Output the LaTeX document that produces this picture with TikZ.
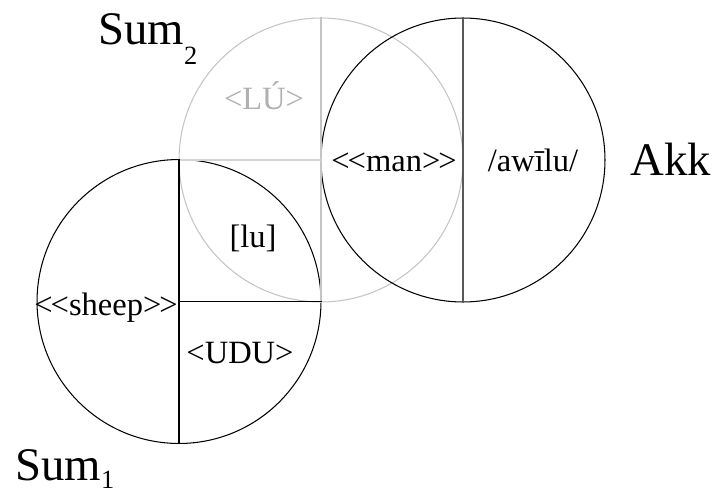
\documentclass[tikz,border=0pt]{standalone}
\usepackage{fontspec}
\setmainfont{Liberation Serif}
\usepackage{tikz}
\usetikzlibrary{shapes.geometric}
\definecolor{lightring}{HTML}{C4C4C4}
\definecolor{lightline}{HTML}{D4D4D4}
\definecolor{lighttext}{HTML}{B0B0B0}
\tikzstyle{ring} = [circle, draw=black, line width=0.6pt, minimum size=5.68cm, inner sep=0pt]
\tikzstyle{divider} = [line width=0.6pt]
\tikzstyle{gloss} = [inner sep=0pt, anchor=base, font=\fontsize{18.5}{20}\selectfont]
\tikzstyle{lang} = [inner sep=0pt, anchor=base west, font=\fontsize{26.6}{28}\selectfont]
\newcommand{\subidx}[2][-11pt]{{\fontsize{15}{15}\selectfont\raisebox{#1}{#2}}}
\newcommand{\dlt}{<\kern-0.06em<}
\newcommand{\dgt}{>\kern-0.06em>}

\begin{document}
\begin{tikzpicture}[x=0.02cm, y=-0.02cm]
\useasboundingbox (0,0) rectangle (715,493);

% Circles
\node (sumtwo) [ring, draw=lightring] at (321,160) {};
\node (sumone) [ring] at (179,301.5) {};
\node (akk) [ring] at (463,160) {};

% Dividing lines
\draw [divider, draw=lightring] (sumtwo.north) -- (sumtwo.south);
\draw [divider, draw=lightline] (sumtwo.west) -- (sumtwo.center);
\draw [divider] (sumone.north) -- (sumone.south);
\draw [divider] (sumone.center) -- (sumone.east);
\draw [divider, draw=black!65] (akk.north) -- (akk.south);

% Glosses
\node (lusign) [gloss, text=lighttext] at (264,110) {<LÚ>};
\node (man) [gloss] at (394,172) {\dlt man\dgt};
\node (awilu) [gloss] at (533,172) {/awīlu/};
\node (lu) [gloss] at (253,247) {[lu]};
\node (sheep) [gloss] at (106,315) {\dlt sheep\dgt};
\node (udu) [gloss] at (240,363) {<UDU>};

% Language labels
\node (sumtwolabel) [lang] at (98,45) {Sum\subidx{2}};
\node (sumonelabel) [lang] at (15,480) {Sum\subidx[-5pt]{1}};
\node (akklabel) [lang] at (630,175) {Akk};

\end{tikzpicture}
\end{document}
